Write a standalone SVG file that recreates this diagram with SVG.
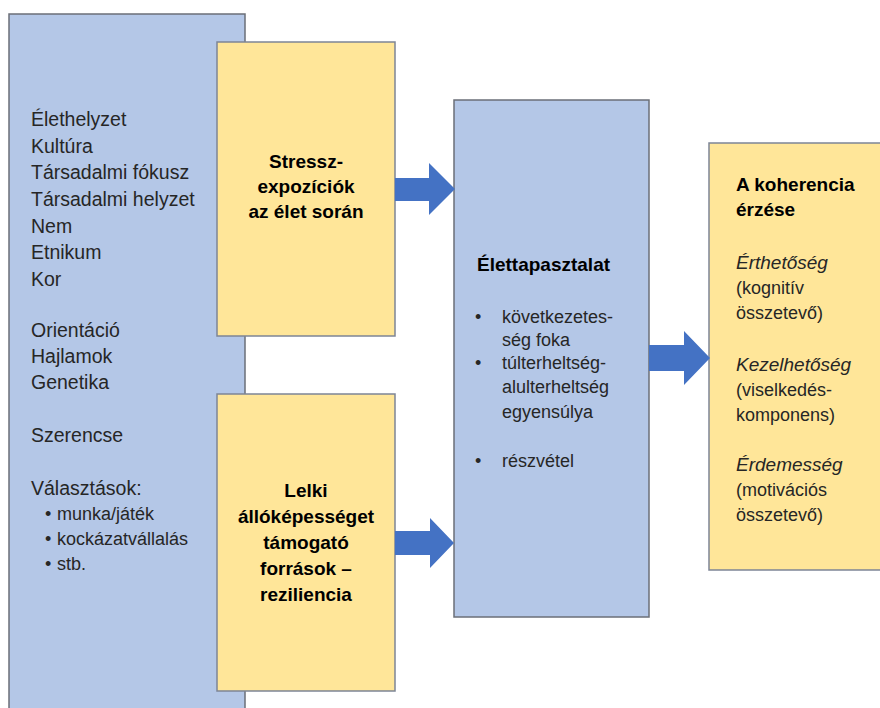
<svg xmlns="http://www.w3.org/2000/svg" width="880" height="708" viewBox="0 0 880 708">
<style>
.blue{fill:#b4c7e7;stroke:#6b6f78;stroke-width:1.5}
.yel{fill:#ffe699;stroke:#7d8596;stroke-width:1.5}
.arrow{fill:#4472c4}
text{font-family:"Liberation Sans","Noto Sans",sans-serif;fill:#262626}
.l{font-size:19.5px}
.m{font-size:19px}
.s{font-size:18px}
.b{font-weight:bold;fill:#000}
.c{text-anchor:middle}
.i{font-style:italic}
</style>
<rect width="880" height="708" fill="#ffffff"/>
<g id="factors">
<rect class="blue" x="9" y="14" width="236" height="710"/>
<text class="l" x="31" y="126">Élethelyzet</text>
<text class="l" x="31" y="152.7">Kultúra</text>
<text class="l" x="31" y="179.3">Társadalmi fókusz</text>
<text class="l" x="31" y="206">Társadalmi helyzet</text>
<text class="l" x="31" y="232.7">Nem</text>
<text class="l" x="31" y="259.3">Etnikum</text>
<text class="l" x="31" y="286">Kor</text>
<text class="l" x="31" y="337">Orientáció</text>
<text class="l" x="31" y="363">Hajlamok</text>
<text class="l" x="31" y="389">Genetika</text>
<text class="l" x="31" y="442">Szerencse</text>
<text class="l" x="31" y="495">Választások:</text>
<text class="s" x="45" y="520">•</text>
<text class="s" x="57" y="520">munka/játék</text>
<text class="s" x="45" y="545">•</text>
<text class="s" x="57" y="545">kockázatvállalás</text>
<text class="s" x="45" y="570">•</text>
<text class="s" x="57" y="570">stb.</text>
</g>
<g id="stress">
<rect class="yel" x="217" y="42" width="178" height="294"/>
<text class="m b c" x="306" y="168">Stressz-</text>
<text class="m b c" x="306" y="193">expozíciók</text>
<text class="m b c" x="306" y="218">az élet során</text>
</g>
<g id="resilience">
<rect class="yel" x="217" y="394" width="178" height="297"/>
<text class="m b c" x="306" y="497">Lelki</text>
<text class="m b c" x="306" y="523">állóképességet</text>
<text class="m b c" x="306" y="549">támogató</text>
<text class="m b c" x="306" y="575">források –</text>
<text class="m b c" x="306" y="601">reziliencia</text>
</g>
<g id="experience">
<rect class="blue" x="454" y="100" width="195" height="517"/>
<text class="m b" x="477" y="271">Élettapasztalat</text>
<text class="s" x="475" y="323">•</text>
<text class="s" x="502" y="323">következetes-</text>
<text class="s" x="502" y="346">ség foka</text>
<text class="s" x="475" y="369">•</text>
<text class="s" x="502" y="369">túlterheltség-</text>
<text class="s" x="502" y="393">alulterheltség</text>
<text class="s" x="502" y="418">egyensúlya</text>
<text class="s" x="475" y="467">•</text>
<text class="s" x="502" y="467">részvétel</text>
</g>
<g id="coherence">
<rect class="yel" x="709" y="143" width="180" height="427"/>
<text class="m b" x="736" y="191">A koherencia</text>
<text class="m b" x="736" y="216">érzése</text>
<text class="m i" x="736" y="269">Érthetőség</text>
<text class="s" x="736" y="294">(kognitív</text>
<text class="s" x="736" y="319">összetevő)</text>
<text class="m i" x="736" y="371">Kezelhetőség</text>
<text class="s" x="736" y="396">(viselkedés-</text>
<text class="s" x="736" y="421">komponens)</text>
<text class="m i" x="736" y="471">Érdemesség</text>
<text class="s" x="736" y="496">(motivációs</text>
<text class="s" x="736" y="521">összetevő)</text>
</g>
<g id="connectors">
<polygon class="arrow" points="395,178 429,178 429,163 455,189 429,215 429,201 395,201"/>
<polygon class="arrow" points="395,531 430,531 430,518 454,543 430,568 430,555 395,555"/>
<polygon class="arrow" points="649,345 684,345 684,331 710,358 684,385 684,371 649,371"/>
</g>
</svg>
